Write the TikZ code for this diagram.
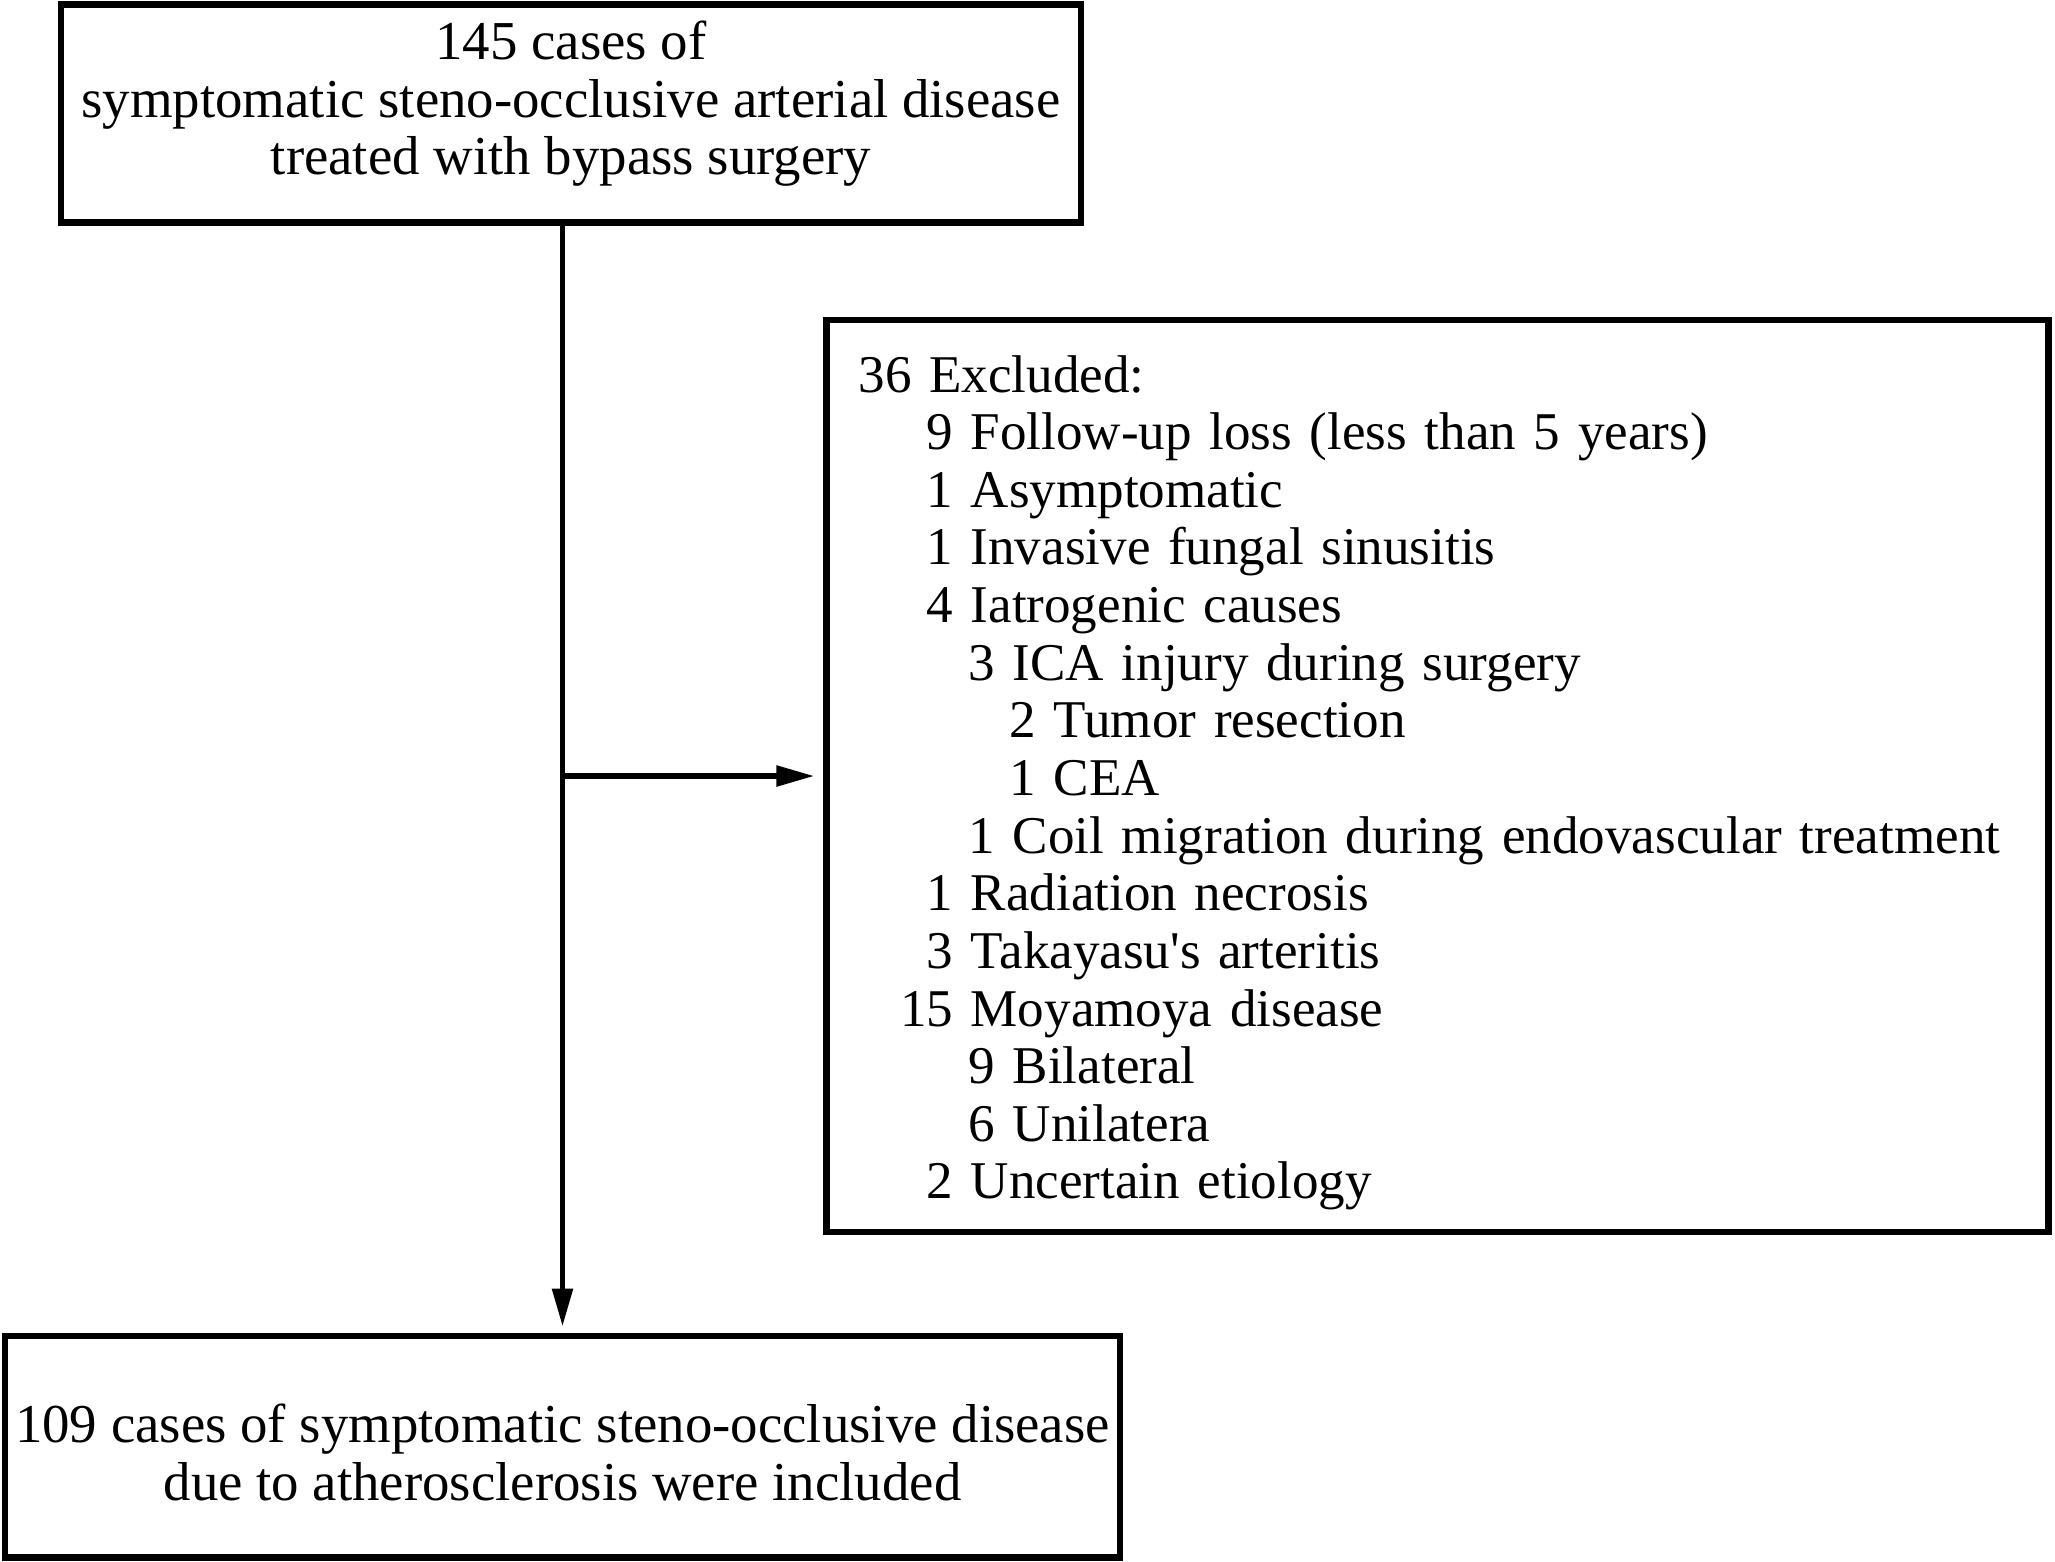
\documentclass[tikz,border=0pt]{standalone}
\usepackage{fontspec}
\setmainfont{Liberation Serif}
\usetikzlibrary{arrows.meta}

\newcommand{\cnt}[2]{\makebox[#1][r]{#2}}
\newcommand{\lead}[1]{\rule{0pt}{#1}}
\newcommand{\tail}[1]{\rule[-#1]{0pt}{#1}}

\begin{document}
\begin{tikzpicture}[node distance=8cm, auto, >={Triangle[length=0.38cm, width=0.2cm]}]
  \tikzstyle{box} = [rectangle, draw, line width=1.8pt, inner xsep=0.08cm, inner ysep=0pt, align=center, font=\fontsize{15.6}{16.4}\selectfont]
  \tikzstyle{list} = [rectangle, draw, line width=1.8pt, inner xsep=0.32cm, inner ysep=0pt, align=left, text width=11.58cm, font=\fontsize{15.1}{16.4}\selectfont]
  \tikzstyle{link} = [->, line width=1.6pt]

  \useasboundingbox (0,0) rectangle (20.55,-15.61);

  \node [box, minimum width=10.2cm] (total) at (5.71,-1.135) {\lead{0.55cm}145 cases of\\ symptomatic steno-occlusive arterial disease\\ treated with bypass surgery\tail{0.48cm}};
  \node [box, minimum width=11.15cm, below of=total, node distance=13.33cm, xshift=-0.085cm] (bot) {\lead{1.07cm}109 cases of symptomatic steno-occlusive disease\\ due to atherosclerosis were included\tail{0.57cm}};
  \node [list, right of=total, node distance=8.665cm, yshift=-6.625cm] (excl) {\lead{0.72cm}36 Excluded:\\
    \cnt{0.946cm}{9} Follow-up loss (less than 5 years)\\
    \cnt{0.946cm}{1} Asymptomatic\\
    \cnt{0.946cm}{1} Invasive fungal sinusitis\\
    \cnt{0.946cm}{4} Iatrogenic causes\\
    \cnt{1.366cm}{3} ICA injury during surgery\\
    \cnt{1.776cm}{2} Tumor resection\\
    \cnt{1.776cm}{1} CEA\\
    \cnt{1.366cm}{1} Coil migration during endovascular treatment\\
    \cnt{0.946cm}{1} Radiation necrosis\\
    \cnt{0.946cm}{3} Takayasu\textquotesingle s arteritis\\
    \cnt{0.946cm}{15} Moyamoya disease\\
    \cnt{1.366cm}{9} Bilateral\\
    \cnt{1.366cm}{6} Unilatera\\
    \cnt{0.946cm}{2} Uncertain etiology\tail{0.33cm}};

  \draw [link, shorten >=0.06cm] (total.south -| bot.north) -- (bot.north);
  \draw [link, shorten >=0.09cm] (bot.north |- excl.west) -- (excl.west);
\end{tikzpicture}
\end{document}
